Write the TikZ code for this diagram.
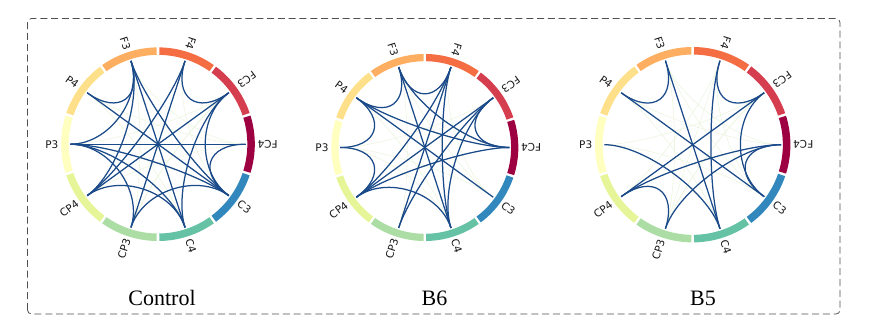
\documentclass[tikz,border=0pt]{standalone}
\usepackage{fontspec}
\setmainfont{Liberation Serif}
\newfontfamily\labfont{DejaVu Sans}
\usetikzlibrary{calc}
\definecolor{cF4}{HTML}{F46D43}
\definecolor{cFC3}{HTML}{D53E4F}
\definecolor{cFC4}{HTML}{9E0142}
\definecolor{cC3}{HTML}{3288BD}
\definecolor{cC4}{HTML}{66C2A5}
\definecolor{cCP3}{HTML}{ABDDA4}
\definecolor{cCP4}{HTML}{E6F598}
\definecolor{cP3}{HTML}{FFFFBF}
\definecolor{cP4}{HTML}{FEE08B}
\definecolor{cF3}{HTML}{FDAE61}
\definecolor{chordblue}{RGB}{26,74,138}
\definecolor{faintgreen}{RGB}{236,245,224}
\definecolor{framegray}{RGB}{80,80,80}
\tikzset{
  chord/.style={draw=chordblue, line width=1.25pt},
  faintchord/.style={draw=faintgreen, line width=0.6pt},
  eeglabel/.style={font=\labfont\fontsize{10.5}{10.5}\selectfont, inner sep=0pt, text=black!90},
  captiontext/.style={font=\fontsize{22}{22}\selectfont, anchor=base, inner sep=0pt},
  frame/.style={draw=framegray, line width=0.8pt, dash pattern=on 7pt off 3.8pt, rounded corners=4pt}
}
% nodes: name/angle/colour/label rotation/label anchor
\newcommand\eegnodes{F4/72/cF4/252/east, FC3/36/cFC3/216/east, FC4/0/cFC4/180/east,
  C3/-36/cC3/-36/west, C4/-72/cC4/-72/west, CP3/-108/cCP3/72/east, CP4/-144/cCP4/36/east,
  P3/180/cP3/0/east, P4/144/cP4/324/east, F3/108/cF3/288/east}
% #1 prefix, #2 x, #3 y, #4 unit
\newcommand\eegsetup[4]{%
  \coordinate (#1) at (#2,#3);
  \foreach \n/\a/\col/\r/\an in \eegnodes {
    \coordinate (#1-\n) at ($(#1)+({\a}:{9*#4})$);
    \coordinate (#1-\n-c) at ($(#1)+({\a}:{5*#4})$);
  }%
}
\newcommand\eegchords[3]{% #1 prefix, #2 style, #3 list
  \edef\eegcurlist{#3}%
  \foreach \s/\t in \eegcurlist
    \draw[#2] (#1-\s) .. controls (#1-\s-c) and (#1-\t-c) .. (#1-\t);%
}
\newcommand\eegring[2]{% #1 prefix, #2 unit
  \foreach \n/\a/\col/\r/\an in \eegnodes {
    \fill[\col, shift={(#1)}] ({\a-17.2}:{9.18*#2}) arc[start angle={\a-17.2}, end angle={\a+17.2}, radius={9.18*#2}]
      -- ({\a+17.2}:{9.95*#2}) arc[start angle={\a+17.2}, end angle={\a-17.2}, radius={9.95*#2}] -- cycle;
    \node[eeglabel, rotate=\r, anchor=\an] (#1-\n-lab) at ($(#1)+({\a}:{9.95*#2+2.6})$) {\n};
  }%
}
\newcommand\faintlist{F3/C3, F3/CP3, F4/CP4, F4/C3, FC3/P3, FC3/CP3, FC4/P4, FC4/CP4, C3/P4, C4/P3, C4/P4, CP3/F4, F3/FC4, CP4/FC3, P3/C3, CP3/FC3}
\begin{document}
\begin{tikzpicture}[x=1pt,y=1pt]
\useasboundingbox (0,0) rectangle (872,323);
\draw[frame] (27.5,9) rectangle (840,304.5);

% ---------------- Control ----------------
\eegsetup{A}{158}{178.8}{9.73}
\eegchords{A}{faintchord}{\faintlist}
\eegchords{A}{chord}{P4/F3, P4/C3, F3/CP4, F3/C4, F3/C3, F4/FC3, F4/CP4, F4/CP3,
  FC3/CP4, FC3/C4, FC3/C3, P3/FC4, P3/C3, P3/C4, P3/F3, FC4/C3, CP3/C3, C4/CP4, P3/CP3}
\eegring{A}{9.73}
\node[captiontext] (capA) at (162,17) {Control};

% ---------------- B6 ----------------
\eegsetup{B}{424.8}{175.5}{9.40}
\eegchords{B}{faintchord}{\faintlist}
\eegchords{B}{chord}{P4/F3, P4/FC4, P4/C3, P4/P3, F3/F4, F3/C4, F3/FC4, F4/CP4, F4/CP3,
  F4/C4, FC3/C4, FC3/FC4, FC3/CP3, FC4/CP4, CP4/P3, CP4/C4, CP4/FC3}
\eegring{B}{9.40}
\node[captiontext] (capB) at (434.5,17) {B6};

% ---------------- B5 ----------------
\eegsetup{C}{692.7}{178.3}{9.82}
\eegchords{C}{faintchord}{\faintlist}
\eegchords{C}{chord}{F3/P4, F3/C4, F4/C4, FC3/F4, FC3/CP4, FC3/C3, FC4/CP4, FC4/CP3,
  FC4/C3, P4/C3, P3/C4, CP4/CP3}
\eegring{C}{9.82}
\node[captiontext] (capC) at (703,17) {B5};
\end{tikzpicture}
\end{document}
